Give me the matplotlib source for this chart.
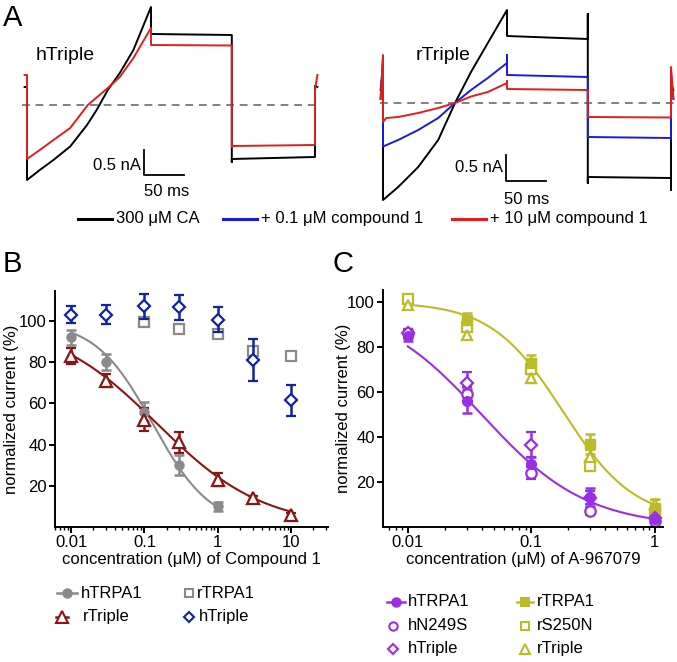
import numpy as np
import matplotlib
matplotlib.use('Agg')
import matplotlib.pyplot as plt
from matplotlib.ticker import FixedLocator, LogLocator, NullFormatter

plt.rcParams['font.family'] = ['Liberation Sans', 'DejaVu Sans']
plt.rcParams['font.size'] = 12

W, H = 677, 662

# ---------------- panel A : current traces (ms, nA) ----------------
T_RAMP, T_STEP, T_END = 155, 256, 360

# hTriple
hb_t = [0, 16, 33, 54, 75, 87, 101, 116, 133, 155]
hb_I = [-1.5, -1.3, -1.1, -0.83, -0.4, -0.1, 0.3, 0.64, 1.1, 1.96]
hr_t = [0, 16, 33, 54, 76, 101, 116, 133, 155]
hr_I = [-1.08, -0.9, -0.7, -0.46, 0.0, 0.34, 0.56, 0.94, 1.54]
# rTriple
rk_t = [0, 19, 44, 69, 90, 110, 131, 155]
rk_I = [-1.94, -1.68, -1.28, -0.74, 0.0, 0.62, 1.2, 1.86]
rb_t = [0, 19, 44, 69, 90, 110, 131, 155]
rb_I = [-0.87, -0.74, -0.54, -0.3, 0.0, 0.26, 0.5, 0.8]
rr_t = [0, 4, 19, 44, 69, 90, 110, 131, 155]
rr_I = [-0.38, -0.3, -0.28, -0.2, -0.1, 0.0, 0.13, 0.22, 0.4]

# hold, start spike, ramp top, step (start,end), drop hi/lo, neg (start,end), end lo, end spike
lv_hb = dict(hold=0.36, s0=0.36, top=1.96, step=(1.42, 1.40), dhi=1.40, dlo=-1.14, neg=(-1.08, -1.04), elo=-1.04, e1=0.38)
lv_hr = dict(hold=0.60, s0=0.60, top=1.54, step=(1.20, 1.19), dhi=1.19, dlo=-0.84, neg=(-0.82, -0.80), elo=-0.80, e1=0.30)
lv_rk = dict(hold=0.26, s0=0.70, top=1.86, step=(1.34, 1.28), dhi=1.78, dlo=-1.60, neg=(-1.48, -1.50), elo=-1.74, e1=0.36)
lv_rb = dict(hold=0.08, s0=0.90, top=0.96, step=(0.56, 0.52), dhi=0.52, dlo=-0.68, neg=(-0.68, -0.70), elo=-0.70, e1=0.60)
lv_rr = dict(hold=0.08, s0=0.96, top=0.44, step=(0.28, 0.26), dhi=0.26, dlo=-0.28, neg=(-0.28, -0.29), elo=-0.29, e1=0.72)

# ---------------- panel B ----------------
B_x = [0.01, 0.03, 0.1, 0.3, 1, 3, 10]
B_hTRPA1 = [92, 80, 56, 30, 10]
B_hTRPA1_err = [3.5, 4, 4.5, 5, 2]
B_rTriple = [83, 71, 52, 41, 23, 14, 6]
B_rTriple_err = [4, 3, 5.5, 5, 3, 1, 1]
B_rTRPA1_x = [0.1, 0.3, 1, 3, 10]
B_rTRPA1 = [99.5, 96, 93.5, 85.5, 83]
B_hTriple = [103, 103, 107, 106.5, 100.5, 81, 61.5]
B_hTriple_err = [4, 4.5, 6, 6, 6, 10, 7.5]
B_fit_h = dict(top=100, bot=0, ic50=0.13, n=1.1, x0=0.01, x1=1)
B_fit_r = dict(top=100, bot=0, ic50=0.15, n=0.6, x0=0.01, x1=10)

# ---------------- panel C ----------------
C_x = [0.01, 0.03, 0.1, 0.3, 1]
C_hTRPA1 = [85, 56, 28, 13.5, 3.5]
C_hTRPA1_err = [2.5, 5.5, 3, 4, 1]
C_hN249S = [86, 59, 24, 7, 2.5]
C_hN249S_err = [2, 3, 2.5, 1.5, 1]
C_hTriple = [86, 64, 36.5, 13, 4]
C_hTriple_err = [2, 5, 5.5, 3, 1]
C_rTRPA1_x = [0.03, 0.1, 0.3, 1]
C_rTRPA1 = [92, 73, 37, 8.5]
C_rTRPA1_err = [3, 3.5, 4.5, 4]
C_rS250N = [101.5, 89, 70, 27, 6]
C_rS250N_err = [1, 2, 2, 2, 1.5]
C_rTriple = [98.5, 85.5, 66, 31, 10]
C_rTriple_err = [1, 1.5, 2, 3, 2]
C_fit_h = dict(top=100, bot=0, ic50=0.0396, n=1.02, x0=0.01, x1=1)
C_fit_r = dict(top=100, bot=3, ic50=0.18, n=1.5, x0=0.01, x1=1)

GRAY = '#8a8a8a'
DRED = '#8b1414'
NAVY = '#1022a6'
PURP = '#9a2ee6'
OLIV = '#bcbc2a'
TBLUE = '#1a1ae0'
TRED = '#e01e1e'


def rect(x0, y0, x1, y1):
    return [x0 / W, 1 - y1 / H, (x1 - x0) / W, (y1 - y0) / H]


def build(rt, rI, lv):
    t = [-3, 0] + rt + [T_RAMP, T_RAMP, T_STEP, T_STEP, T_STEP, T_STEP, T_END, T_END, T_END, T_END + 3]
    I = [lv['hold'], lv['s0']] + rI + [lv['top'], lv['step'][0], lv['step'][1], lv['dhi'], lv['dlo'],
                                      lv['neg'][0], lv['neg'][1], lv['elo'], lv['e1'], lv['hold']]
    return t, I


def hill(p):
    xx = np.logspace(np.log10(p['x0']), np.log10(p['x1']), 200)
    return xx, p['bot'] + (p['top'] - p['bot']) / (1 + (xx / p['ic50']) ** p['n'])


fig = plt.figure(figsize=(W / 100, H / 100), dpi=100)

# left traces: t=0 at px 27, I=0 at px 105 ; 1 ms = 0.8 px, 1 nA = 50 px
axL = fig.add_axes(rect(0, 0, 340, 230))
axL.set_xlim(-27 * 1.25, (340 - 27) * 1.25)
axL.set_ylim((105 - 230) * 0.02, 105 * 0.02)
axL.axis('off')
axL.plot([-6, 364], [0, 0], color='#808080', lw=1.4, ls=(0, (4, 3)))
t, I = build(hb_t, hb_I, lv_hb)
axL.plot(t, I, color='black', lw=1.4)
t, I = build(hr_t, hr_I, lv_hr)
axL.plot(t, I, color=TRED, lw=1.4)
axL.plot([146, 146, 196], [-0.9, -1.4, -1.4], color='black', lw=1.3)
axL.text(143, -1.2, '0.5 nA', ha='right', va='center', fontsize=12)
axL.text(174, -1.72, '50 ms', ha='center', va='center', fontsize=12)
axL.text(11, 1.0, 'hTriple', ha='left', va='center', fontsize=14)

axR = fig.add_axes(rect(340, 0, 677, 230))
axR.set_xlim(-43 * 1.25, (677 - 383) * 1.25)
axR.set_ylim((103 - 230) * 0.02, 103 * 0.02)
axR.axis('off')
axR.plot([-4, 366], [0, 0], color='#808080', lw=1.4, ls=(0, (4, 3)))
t, I = build(rk_t, rk_I, lv_rk)
axR.plot(t, I, color='black', lw=1.4)
t, I = build(rb_t, rb_I, lv_rb)
axR.plot(t, I, color=TBLUE, lw=1.4)
t, I = build(rr_t, rr_I, lv_rr)
axR.plot(t, I, color=TRED, lw=1.4)
axR.plot([154, 154, 204], [-1.04, -1.56, -1.56], color='black', lw=1.3)
axR.text(150, -1.3, '0.5 nA', ha='right', va='center', fontsize=12)
axR.text(180, -1.92, '50 ms', ha='center', va='center', fontsize=12)
axR.text(41, 0.96, 'rTriple', ha='left', va='center', fontsize=14)


def style_axis(ax, xlim, ylim, xticks, xlabels, xlabel, ypad):
    ax.set_xscale('log')
    ax.set_xlim(*xlim)
    ax.set_ylim(*ylim)
    ax.spines['top'].set_visible(False)
    ax.spines['right'].set_visible(False)
    for s in ('left', 'bottom'):
        ax.spines[s].set_linewidth(1.4)
    ax.xaxis.set_major_locator(FixedLocator(xticks))
    ax.set_xticklabels(xlabels)
    ax.xaxis.set_minor_locator(LogLocator(base=10, subs=np.arange(2, 10)))
    ax.xaxis.set_minor_formatter(NullFormatter())
    ax.set_yticks([20, 40, 60, 80, 100])
    ax.tick_params(which='major', length=4, width=1.4, labelsize=12, pad=2)
    ax.tick_params(which='minor', length=2.2, width=1.0)
    ax.set_ylabel('normalized current (%)', fontsize=12, labelpad=ypad)
    ax.set_xlabel(xlabel, fontsize=12, labelpad=1)


eb = dict(capsize=3.5, elinewidth=1.8, capthick=1.8, linestyle='none')

axB = fig.add_axes(rect(55, 291, 328, 527))
style_axis(axB, (0.006, 32), (0, 114.5), [0.01, 0.1, 1, 10], ['0.01', '0.1', '1', '10'],
           'concentration (\u03bcM) of Compound 1', 0)
xx, yy = hill(B_fit_h)
axB.plot(xx, yy, color=GRAY, lw=1.5)
xx, yy = hill(B_fit_r)
axB.plot(xx, yy, color=DRED, lw=1.5)
axB.plot(B_rTRPA1_x, B_rTRPA1, 's', ms=6.5, mfc='white', mec=GRAY, mew=1.6, ls='none')
axB.errorbar(B_x, B_hTriple, yerr=B_hTriple_err, fmt='D', ms=6, mfc='white', mec=NAVY, mew=1.6,
             color=NAVY, **eb)
axB.errorbar(B_x[:5], B_hTRPA1, yerr=B_hTRPA1_err, fmt='o', ms=6.5, mfc=GRAY, mec=GRAY,
             color=GRAY, **eb)
axB.errorbar(B_x, B_rTriple, yerr=B_rTriple_err, fmt='^', ms=9, mfc='white', mec=DRED, mew=1.6,
             color=DRED, **eb)

axC = fig.add_axes(rect(383, 290, 663, 527))
style_axis(axC, (0.0063, 1.17), (0, 105.3), [0.01, 0.1, 1], ['0.01', '0.1', '1'],
           'concentration (\u03bcM) of A-967079', -3)
xx, yy = hill(C_fit_h)
axC.plot(xx, yy, color=PURP, lw=1.5)
xx, yy = hill(C_fit_r)
axC.plot(xx, yy, color=OLIV, lw=1.5)
axC.errorbar(C_x, C_rS250N, yerr=C_rS250N_err, fmt='s', ms=7, mfc='white', mec=OLIV, mew=1.6, color=OLIV, **eb)
axC.errorbar(C_x, C_rTriple, yerr=C_rTriple_err, fmt='^', ms=7.5, mfc='white', mec=OLIV, mew=1.6, color=OLIV, **eb)
axC.errorbar(C_rTRPA1_x, C_rTRPA1, yerr=C_rTRPA1_err, fmt='s', ms=7, mfc=OLIV, mec=OLIV, color=OLIV, **eb)
axC.errorbar(C_x, C_hN249S, yerr=C_hN249S_err, fmt='o', ms=7.5, mfc='white', mec=PURP, mew=1.6, color=PURP, **eb)
axC.errorbar(C_x, C_hTriple, yerr=C_hTriple_err, fmt='D', ms=6.5, mfc='white', mec=PURP, mew=1.6, color=PURP, **eb)
axC.errorbar(C_x, C_hTRPA1, yerr=C_hTRPA1_err, fmt='o', ms=7, mfc=PURP, mec=PURP, color=PURP, **eb)

# ---------------- overlay: panel letters and legends (pixel coords) ----------------
ov = fig.add_axes([0, 0, 1, 1])
ov.set_xlim(0, W)
ov.set_ylim(H, 0)
ov.axis('off')
ov.patch.set_alpha(0)

for lab, x, y in [('A', 3, 18), ('B', 3, 264), ('C', 333, 264)]:
    ov.text(x, y, lab, fontsize=21, ha='left', va='center')

# legend A
for x0, col, txt in [(78, 'black', '300 \u03bcM CA'), (223, TBLUE, '+ 0.1 \u03bcM compound 1'),
                     (452, TRED, '+ 10 \u03bcM compound 1')]:
    ov.plot([x0, x0 + 34], [219, 219], color=col, lw=2.2)
    ov.text(x0 + 38, 219, txt, fontsize=12, ha='left', va='center')


def entry(x, y, txt, marker, col, filled, line=None, ms=6.5, tx=None):
    if line:
        ov.plot([x - line, x + line], [y, y], color=col, lw=1.8)
    ov.plot([x], [y], marker=marker, ms=ms, mec=col, mfc=col if filled else 'white', mew=1.5)
    ov.text(tx if tx else x + 10, y, txt, fontsize=12, ha='left', va='center')


entry(67, 593, 'hTRPA1', 'o', GRAY, True, line=10, ms=6, tx=81)
entry(62, 617, 'rTriple', '^', DRED, False, line=6, ms=8, tx=83)
entry(189, 593, 'rTRPA1', 's', GRAY, False, ms=6, tx=197)
entry(189, 617, 'hTriple', 'D', NAVY, False, ms=5.5, tx=199)

entry(396, 602, 'hTRPA1', 'o', PURP, True, line=9, ms=6, tx=408)
entry(393, 626, 'hN249S', 'o', PURP, False, ms=6, tx=408)
entry(393, 649, 'hTriple', 'D', PURP, False, ms=5.5, tx=408)
entry(525, 602, 'rTRPA1', 's', OLIV, True, line=8, ms=6, tx=537)
entry(525, 626, 'rS250N', 's', OLIV, False, ms=6, tx=537)
entry(525, 649, 'rTriple', '^', OLIV, False, ms=6.5, tx=537)

fig.savefig('out.png', dpi=100)
